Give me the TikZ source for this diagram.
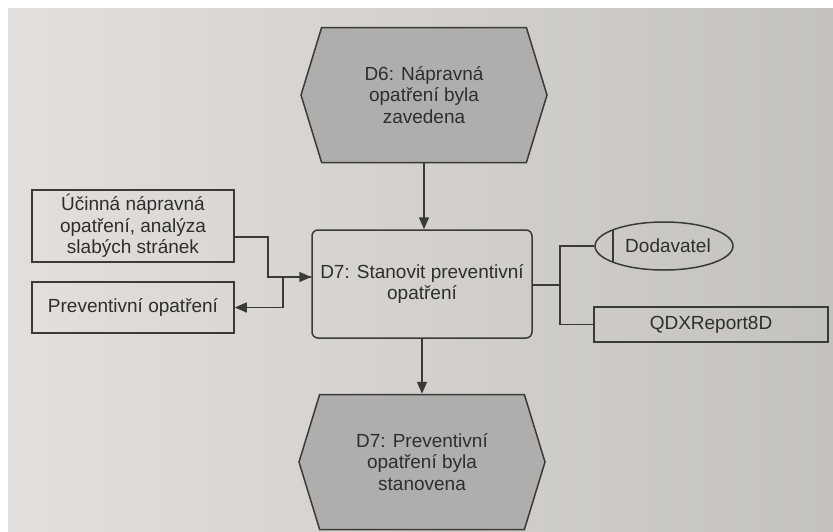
\documentclass[tikz,border=0pt]{standalone}
\usepackage{fontspec}
\setmainfont{Liberation Sans}
\usetikzlibrary{shapes.symbols,shapes.geometric,arrows.meta,calc}

\definecolor{ink}{HTML}{3A3A3A}
\definecolor{txt}{HTML}{2E2E2E}
\definecolor{evfill}{HTML}{B0AEAC}
\definecolor{paperL}{HTML}{E2DFDD}
\definecolor{paperM}{HTML}{E6E3E1}
\definecolor{paperR}{HTML}{C4C2BF}

\tikzset{
  base/.style={font=\fontsize{19}{21.5}\selectfont, text=txt, align=center, draw=ink, line width=1.5pt},
  evt/.style={base, signal, signal to=west and east, signal pointer angle=146,
              fill=evfill, minimum width=246pt, minimum height=135pt, inner sep=0pt},
  fnbox/.style={base, rectangle, rounded corners=6pt, minimum width=220pt, minimum height=108pt, inner sep=2pt},
  infobox/.style={base, rectangle, minimum width=202pt, inner sep=2pt},
  orgunit/.style={base, ellipse, minimum width=138pt, minimum height=48pt, inner sep=0pt},
  conn/.style={draw=ink, line width=1.5pt},
  arr/.style={conn, -{Triangle[length=12pt,width=10pt]}},
}

\begin{document}
\begin{tikzpicture}[x=1pt,y=-1pt]
  \useasboundingbox (0,0) rectangle (833,531);
  % page background
  \fill[white] (0,0) rectangle (833,531);
  \shade[left color=paperL, middle color=paperM, right color=paperR] (8,8) rectangle (833,531);

  % events
  \node[evt] (e6) at (424,95) {D6: Nápravná\\opatření byla\\zavedena};
  \node[evt] (e7) at (422,462) {D7: Preventivní\\opatření byla\\stanovena};

  % function
  \node[fnbox] (f7) at (422,284) {D7: Stanovit preventivní\\opatření};

  % input / output information
  \node[infobox, minimum height=72pt] (in1) at (133,226) {Účinná nápravná\\opatření, analýza\\slabých stránek};
  \node[infobox, minimum height=51pt] (out1) at (133,307.5) {Preventivní opatření};

  % organisational unit and document
  \node[orgunit, path picture={\draw[ink, line width=1.5pt]
      ($(path picture bounding box.north west)+(18,0)$) --
      ($(path picture bounding box.south west)+(18,0)$);}] (dod) at (664,246) {\hspace{8pt}Dodavatel};
  \node[base, rectangle, minimum width=234pt, minimum height=35pt, inner sep=2pt] (qdx) at (711,324.5) {QDXReport8D};

  % junction points
  \coordinate (j1) at (268,237);
  \coordinate (j2) at (283,277);
  \coordinate (j3) at (560,285);

  % control flow
  \draw[arr] (e6.south) -- (e6.south |- f7.north);
  \draw[arr] (f7.south) -- (f7.south |- e7.north);

  % information flow
  \draw[arr] (in1.east |- j1) -- (j1) |- (f7.west |- j2);
  \draw[arr] (f7.west |- j2) -- (j2) |- (out1.east);

  % assignments
  \draw[conn] (f7.east |- j3) -- (j3);
  \draw[conn] (j3) |- (dod.west);
  \draw[conn] (j3) |- (qdx.west);
\end{tikzpicture}
\end{document}
